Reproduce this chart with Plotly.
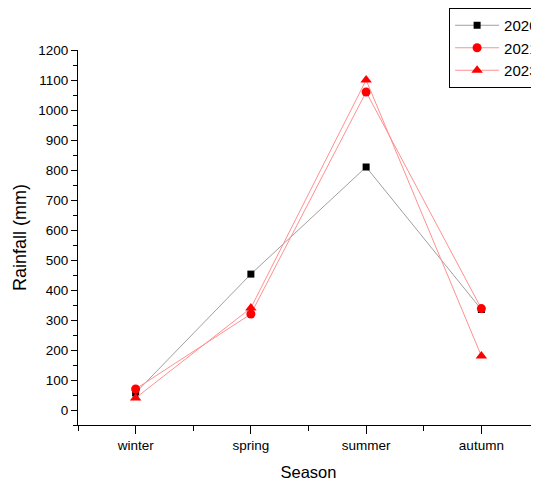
import plotly.graph_objects as go

seasons = ["winter", "spring", "summer", "autumn"]
rain_2020 = [57, 453, 810, 335]
rain_2021 = [70, 320, 1060, 338]
rain_2023 = [40, 340, 1100, 180]

xpos = list(range(len(seasons)))

fig = go.Figure()
fig.add_trace(go.Scatter(x=xpos, y=rain_2020, name="2020", mode="lines+markers",
                         line=dict(color="#a0a0a0", width=1),
                         marker=dict(symbol="square", size=7, color="black")))
fig.add_trace(go.Scatter(x=xpos, y=rain_2021, name="2021", mode="lines+markers",
                         line=dict(color="#ff9090", width=1),
                         marker=dict(symbol="circle", size=9, color="red")))
fig.add_trace(go.Scatter(x=xpos, y=rain_2023, name="2023", mode="lines+markers",
                         line=dict(color="#ff9090", width=1),
                         marker=dict(symbol="triangle-up", size=10, color="red")))

# page body has an 8px margin, so the figure is sized/positioned to compensate
fig.update_layout(
    width=531, height=476,
    margin=dict(l=70, r=0, t=42, b=59, autoexpand=False),
    plot_bgcolor="white", paper_bgcolor="white",
    font=dict(family="Liberation Sans, Arial, sans-serif", color="black"),
    showlegend=True,
    legend=dict(x=0.805, y=1.112, xanchor="left", yanchor="top",
                bordercolor="black", borderwidth=1, bgcolor="white",
                font=dict(size=15), itemwidth=44),
)
fig.update_xaxes(
    range=[-0.5, 3.5], tickmode="array", tickvals=xpos, ticktext=seasons,
    showline=True, linecolor="black", linewidth=1, ticks="outside", ticklen=8,
    tickcolor="black", showgrid=False, zeroline=False,
    tickfont=dict(size=13.5),
    minor=dict(ticks="outside", ticklen=5, tick0=0.5, dtick=1, tickcolor="black"),
    title=dict(text="Season", font=dict(size=16.5), standoff=14),
)
fig.update_yaxes(
    range=[-50, 1200], tickmode="linear", tick0=0, dtick=100,
    showline=True, linecolor="black", linewidth=1, ticks="outside", ticklen=6,
    tickcolor="black", showgrid=False, zeroline=False,
    tickfont=dict(size=13.5),
    minor=dict(ticks="outside", ticklen=4, tick0=50, dtick=100, tickcolor="black"),
    title=dict(text="Rainfall (mm)", font=dict(size=18), standoff=6),
)

fig.write_html("out.html")
